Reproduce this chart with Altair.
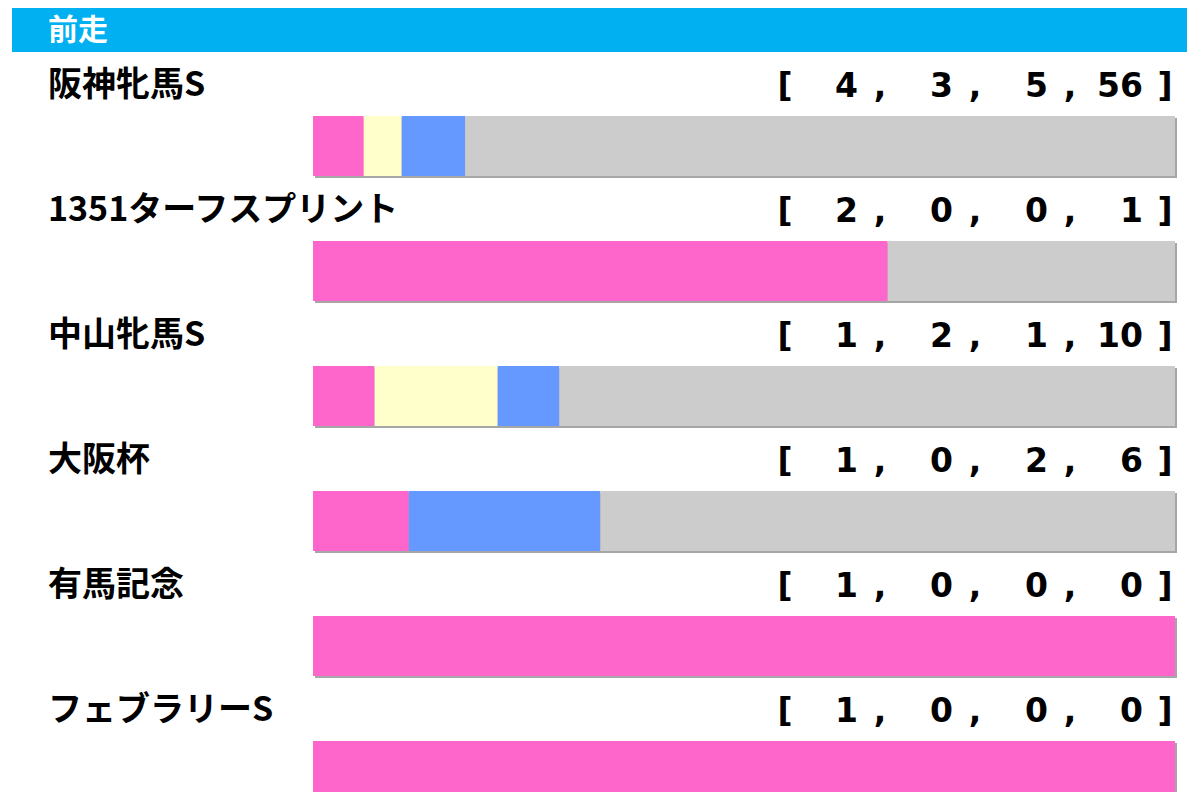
import altair as alt
import pandas as pd

# ---- data ----
title = ["前走"]
races = ["阪神牝馬S", "1351ターフスプリント", "中山牝馬S", "大阪杯", "有馬記念", "フェブラリーS"]
first = [4, 2, 1, 1, 1, 1]
second = [3, 0, 2, 0, 0, 0]
third = [5, 0, 1, 2, 0, 0]
other = [56, 1, 10, 6, 0, 0]
kinds = ["1着", "2着", "3着", "着外"]
colors = ["#FF66CC", "#FFFFCC", "#6699FF", "#CCCCCC"]

rows = []
for i, r in enumerate(races):
    for k, vals in enumerate([first, second, third, other]):
        rows.append({"race": r, "kind": kinds[k], "k": k, "count": vals[i]})
long = pd.DataFrame(rows)
wide = pd.DataFrame({"race": races})
head = pd.DataFrame({"title": title})

FONT_JP = "Noto Sans CJK JP"
FONT_NUM = "DejaVu Sans"

xs = alt.Scale(domain=[0, 1], range=[305, 1167])
colscale = alt.Scale(domain=[0, 3], range=[850, 1135])
yenc = alt.Y("race:N", sort=races,
             scale=alt.Scale(domain=races, range=[108, 793], paddingInner=0.52, paddingOuter=0),
             axis=None)

header = alt.Chart(head).mark_rect(color="#00B0F0").encode(
    x=alt.value(4), x2=alt.value(1179), y=alt.value(0), y2=alt.value(44))
header_text = alt.Chart(head).mark_text(
    align="left", baseline="middle", color="white", fontSize=30,
    font=FONT_JP, fontWeight="bold").encode(
    x=alt.value(40), y=alt.value(23), text="title:N")

shadow = alt.Chart(wide).transform_calculate(lo="0", hi="1").mark_bar(
    color="#A6A6A6", xOffset=2, x2Offset=2, yOffset=2, y2Offset=2).encode(
    x=alt.X("lo:Q", scale=xs, axis=None), x2="hi:Q", y=yenc)

bars = alt.Chart(long).mark_bar().encode(
    x=alt.X("count:Q", stack="normalize", scale=xs, axis=None),
    y=yenc,
    color=alt.Color("kind:N", scale=alt.Scale(domain=kinds, range=colors), legend=None),
    order=alt.Order("k:Q"))

labels = alt.Chart(wide).mark_text(
    align="left", baseline="middle", dy=-60, font=FONT_JP, fontWeight="bold",
    fontSize=34, color="black").encode(
    x=alt.value(40), y=yenc, text="race:N")

nums = alt.Chart(long).mark_text(
    align="right", baseline="middle", dy=-59, font=FONT_NUM, fontWeight="bold",
    fontSize=33, color="black").encode(
    x=alt.X("k:Q", scale=colscale, axis=None), y=yenc, text="count:Q")

commas = alt.Chart(long).transform_filter("datum.k < 3").mark_text(
    align="center", baseline="middle", dy=-59, dx=22, font=FONT_NUM, fontWeight="bold",
    fontSize=33, color="black", text=",").encode(
    x=alt.X("k:Q", scale=colscale, axis=None), y=yenc)

lb = alt.Chart(wide).mark_text(
    align="center", baseline="middle", dy=-59, font=FONT_NUM, fontWeight="bold",
    fontSize=33, color="black", text="[").encode(x=alt.value(777), y=yenc)
rb = alt.Chart(wide).mark_text(
    align="center", baseline="middle", dy=-59, font=FONT_NUM, fontWeight="bold",
    fontSize=33, color="black", text="]").encode(x=alt.value(1157), y=yenc)

chart = alt.layer(header, header_text, shadow, bars, labels, nums, commas, lb, rb).resolve_scale(
    x="independent").properties(
    width=1184, height=784, padding=0, autosize="none").configure_view(stroke=None)

chart.save("out.html", embed_options={"renderer": "svg", "actions": False})
